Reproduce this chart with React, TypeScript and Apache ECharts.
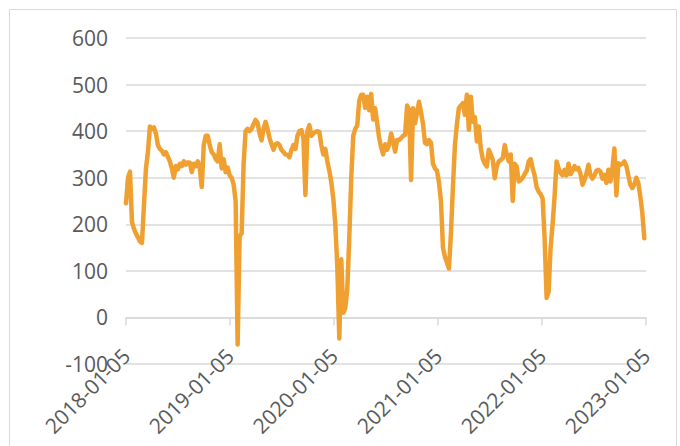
import React, { useEffect, useRef } from "react";
import * as echarts from "echarts";

// Weekly series, first week = 2018-01-05
const startDate = "2018-01-05";

const values2018 = [
  245, 300, 313, 205, 190, 180, 172, 163, 160, 240,
  320, 355, 410, 405, 408, 395, 370, 362, 358, 350,
  355, 345, 335, 320, 300, 325, 318, 330, 325, 335,
  328, 333, 332, 312, 330, 325, 335, 320, 280, 370,
  390, 390, 370, 355, 350, 340, 335, 372, 320, 340,
  312, 322,
];
const values2019 = [
  305, 300, 285, 250,
  -58, 175, 180, 330, 400, 405, 400, 405, 415, 424,
  418, 395, 380, 405, 420, 405, 385, 372, 360, 372,
  374, 370, 360, 355, 350, 349, 344, 360, 370, 362,
  390, 400, 402, 385, 263, 400, 413, 390, 395, 398,
  400, 398, 370, 350, 362, 335, 315, 290,
];
const values2020 = [
  255, 200,
  110, -45, 125, 10, 20, 60, 170, 300, 390, 405,
  412, 465, 478, 478, 450, 474, 445, 480, 425, 449,
  417, 385, 365, 350, 372, 360, 371, 395, 378, 356,
  381, 381, 385, 390, 392, 455, 446, 295, 449, 417,
  440, 463, 440, 415, 375, 372, 381, 375, 330, 320,
];
const values2021 = [
  315, 290, 250, 150, 130, 118, 105, 180, 280, 370,
  415, 450, 455, 460, 435, 478, 403, 474, 420, 430,
  378, 410, 362, 340, 330, 324, 360, 350, 338, 299,
  325, 335, 338, 342, 370, 350, 335, 350, 250, 330,
  324, 292, 295, 300, 308, 315, 335, 340, 320, 305,
  280, 270,
];
const values2022 = [
  265, 255, 170, 42, 55, 150, 200, 260,
  335, 320, 310, 305, 317, 305, 330, 308, 315, 325,
  318, 321, 308, 285, 295, 310, 328, 305, 298, 305,
  315, 317, 313, 298, 306, 289, 317, 292, 320, 363,
  262, 331, 328, 330, 335, 325, 305, 285, 278, 285,
  300, 289, 260, 225, 170,
];

const tickLabels = [
  "2018-01-05",
  "2019-01-05",
  "2020-01-05",
  "2021-01-05",
  "2022-01-05",
  "2023-01-05",
];

const yTicks = [-100, 0, 100, 200, 300, 400, 500, 600];

const DAY = 86400000;
const toTs = (s: string) => Date.parse(s + "T00:00:00Z");
const fmt = (t: number) => new Date(t).toISOString().slice(0, 10);

const allValues = [
  ...values2018,
  ...values2019,
  ...values2020,
  ...values2021,
  ...values2022,
];
const dates = allValues.map((_, i) => fmt(toTs(startDate) + i * 7 * DAY));

export default function App() {
  const ref = useRef<HTMLDivElement>(null);

  useEffect(() => {
    document.body.style.margin = "0";
    if (!ref.current) return;
    const chart = echarts.init(ref.current, null, { renderer: "svg" });
    const tickTs = tickLabels.map(toTs);
    const font = "'Open Sans', 'Liberation Sans', sans-serif";
    chart.setOption({
      animation: false,
      backgroundColor: "#ffffff",
      graphic: [
        {
          type: "rect",
          shape: { x: 9.5, y: 9.5, width: 667, height: 460 },
          style: { fill: "none", stroke: "#D9D9D9", lineWidth: 1 },
          silent: true,
        },
      ],
      grid: {
        left: 126,
        right: 34,
        top: 38,
        bottom: 82,
        containLabel: false,
        outerBoundsMode: "none",
      },
      xAxis: {
        type: "value",
        min: tickTs[0],
        max: tickTs[tickTs.length - 1],
        splitLine: { show: false },
        axisLine: {
          show: true,
          onZero: true,
          lineStyle: { color: "#D9D9D9", width: 1.5 },
        },
        axisTick: {
          show: true,
          customValues: tickTs,
          length: 8,
          lineStyle: { color: "#D9D9D9", width: 1.5 },
        },
        axisLabel: {
          customValues: tickTs,
          rotate: 45,
          margin: -12,
          formatter: (v: number) => fmt(v),
          fontSize: 21,
          color: "#595959",
          fontFamily: font,
        },
      },
      yAxis: {
        type: "value",
        min: yTicks[0],
        max: yTicks[yTicks.length - 1],
        interval: 100,
        axisLine: { show: false },
        axisTick: { show: false },
        splitLine: { lineStyle: { color: "#D9D9D9", width: 1.5 } },
        axisLabel: {
          fontSize: 21,
          color: "#595959",
          fontFamily: font,
          margin: 18,
        },
      },
      series: [
        {
          type: "line",
          data: dates.map((d, i) => [toTs(d), allValues[i]]),
          showSymbol: false,
          symbol: "none",
          lineStyle: { color: "#F0A030", width: 4.5, join: "round", cap: "round" },
        },
      ],
    });
    return () => chart.dispose();
  }, []);

  return <div ref={ref} style={{ width: 680, height: 446 }} />;
}
